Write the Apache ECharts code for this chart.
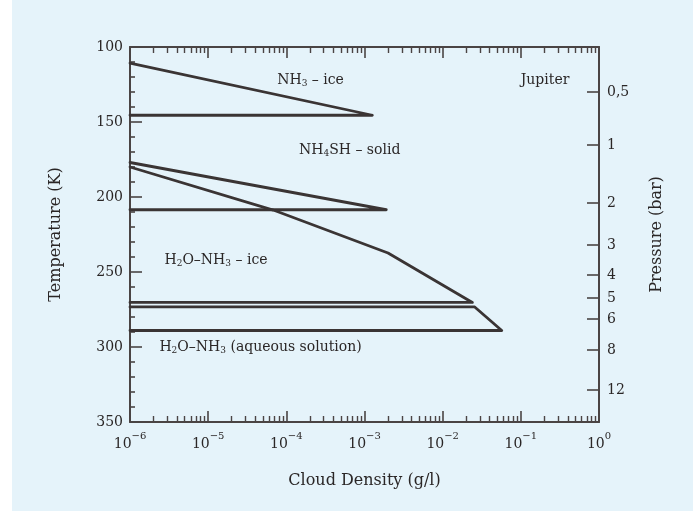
<!DOCTYPE html>
<html><head><meta charset="utf-8">
<script src="https://cdn.jsdelivr.net/npm/echarts@6/dist/echarts.min.js"></script>
<style>
html,body{margin:0;padding:0;background:#fff;}
#bg{position:absolute;left:12px;top:0;width:681px;height:511px;background:#e5f3fa;}
#c{position:absolute;left:0;top:0;width:693px;height:511px;}
</style>
</head><body><div id="bg"></div><div id="c"></div>
<script>
// ---- data ----
const densityTicks = [1e-6, 1e-5, 1e-4, 1e-3, 1e-2, 1e-1, 1];
const tempTicks = [100, 150, 200, 250, 300, 350];
const pressureLabels = ['0,5', '1', '2', '3', '4', '5', '6', '8', '12'];
const pressureTemps = [130, 165.3, 204, 232, 252, 267.3, 281.3, 302, 328.7];

const nh3IceDensity = [1e-6, 1.26e-3, 1e-6];
const nh3IceTemp = [110.7, 145.5, 145.5];
const nh4shDensity = [1e-6, 1.9e-3, 1e-6];
const nh4shTemp = [177, 208.5, 208.5];
const h2oIceDensity = [1e-6, 6.8e-5, 2.0e-3, 2.4e-2, 1e-6];
const h2oIceTemp = [180, 208.7, 237.3, 270.3, 270.3];
const aqueousDensity = [1e-6, 2.57e-2, 5.7e-2, 1e-6];
const aqueousTemp = [273.3, 273.3, 289, 289];

const labelTexts = ['{n|NH}{s|3}{n| – ice}', '{n|Jupiter}', '{n|NH}{s|4}{n|SH – solid}', '{n|H}{s|2}{n|O–NH}{s|3}{n| – ice}', '{n|H}{s|2}{n|O–NH}{s|3}{n| (aqueous solution)}'];
const labelDensity = [2.04e-4, 0.204, 6.46e-4, 1.26e-5, 4.68e-5];
const labelTemp = [122, 122, 168.7, 242, 300];

// ---- styling ----
const FONT = 'DejaVu Serif';
const TXT = '#2a2626';
const AX = '#4a4444';
const LN = '#3a3434';

const minorLogVals = [];
for (let k = -6; k < 0; k++) for (let m = 2; m <= 9; m++) minorLogVals.push(k + Math.log10(m));

function zip(a, b) { return a.map((v, i) => [v, b[i]]); }
function lineSeries(name, xs, ys) {
  return { name, type: 'line', xAxisIndex: 0, yAxisIndex: 0, data: zip(xs, ys),
    showSymbol: false, symbol: 'none', silent: true, animation: false,
    lineStyle: { color: LN, width: 2.8, join: 'round', cap: 'round' } };
}

const option = {
  animation: false,
  backgroundColor: 'transparent',
  grid: { left: 130, right: 94, top: 47, bottom: 89, containLabel: false },
  xAxis: [
    { type: 'log', logBase: 10, min: densityTicks[0], max: densityTicks[densityTicks.length - 1], position: 'bottom',
      axisLine: { show: true, onZero: false, lineStyle: { color: AX, width: 2 } },
      axisTick: { show: true, inside: true, length: 11, lineStyle: { color: AX, width: 1.6 } },
      splitLine: { show: false },
      axisLabel: { margin: 9, color: TXT, fontFamily: FONT,
        formatter: v => { const e = Math.round(Math.log10(v)); return '{b|10}{s|' + (e < 0 ? '−' + (-e) : e) + '}'; },
        rich: { b: { fontFamily: FONT, fontSize: 14, color: TXT, verticalAlign: 'bottom', lineHeight: 20 },
                s: { fontFamily: FONT, fontSize: 10, color: TXT, verticalAlign: 'top', lineHeight: 20 } } },
      name: 'Cloud Density (g/l)', nameLocation: 'middle', nameGap: 51,
      nameTextStyle: { fontFamily: FONT, fontSize: 16, color: TXT } },
    { type: 'log', logBase: 10, min: densityTicks[0], max: densityTicks[densityTicks.length - 1], position: 'top',
      axisLine: { show: true, onZero: false, lineStyle: { color: AX, width: 2 } },
      axisTick: { show: true, inside: true, length: 11, lineStyle: { color: AX, width: 1.6 } },
      axisLabel: { show: false }, splitLine: { show: false } },
    { type: 'value', min: -6, max: 0, position: 'bottom', axisLine: { show: false, onZero: false }, splitLine: { show: false },
      axisLabel: { show: false },
      axisTick: { show: true, inside: true, length: 6, customValues: minorLogVals, lineStyle: { color: AX, width: 1.4 } } },
    { type: 'value', min: -6, max: 0, position: 'top', axisLine: { show: false, onZero: false }, splitLine: { show: false },
      axisLabel: { show: false },
      axisTick: { show: true, inside: true, length: 6, customValues: minorLogVals, lineStyle: { color: AX, width: 1.4 } } }
  ],
  yAxis: [
    { type: 'value', inverse: true, min: tempTicks[0], max: tempTicks[tempTicks.length - 1], interval: 50, position: 'left',
      axisLine: { show: true, onZero: false, lineStyle: { color: AX, width: 2 } },
      axisTick: { show: true, inside: true, length: 12, lineStyle: { color: AX, width: 1.6 } },
      minorTick: { show: true, splitNumber: 5, length: 5, lineStyle: { color: AX, width: 1.6 } },
      splitLine: { show: false }, minorSplitLine: { show: false },
      axisLabel: { margin: 7, color: TXT, fontFamily: FONT, fontSize: 14 },
      name: 'Temperature (K)', nameLocation: 'middle', nameGap: 66, nameRotate: 90,
      nameTextStyle: { fontFamily: FONT, fontSize: 16, color: TXT } },
    { type: 'value', inverse: true, min: tempTicks[0], max: tempTicks[tempTicks.length - 1], position: 'right',
      axisLine: { show: true, onZero: false, lineStyle: { color: AX, width: 2 } }, splitLine: { show: false },
      axisTick: { show: true, inside: true, length: 12, customValues: pressureTemps, lineStyle: { color: AX, width: 1.6 } },
      axisLabel: { margin: 8, color: TXT, fontFamily: FONT, fontSize: 14, customValues: pressureTemps,
        formatter: v => { let bi = 0; pressureTemps.forEach((t, i) => { if (Math.abs(t - v) < Math.abs(pressureTemps[bi] - v)) bi = i; }); return pressureLabels[bi]; } },
      name: 'Pressure (bar)', nameLocation: 'middle', nameGap: 50, nameRotate: 90,
      nameTextStyle: { fontFamily: FONT, fontSize: 16, color: TXT } }
  ],
  series: [
    lineSeries('NH3 ice', nh3IceDensity, nh3IceTemp),
    lineSeries('NH4SH solid', nh4shDensity, nh4shTemp),
    lineSeries('H2O-NH3 ice', h2oIceDensity, h2oIceTemp),
    lineSeries('aqueous', aqueousDensity, aqueousTemp),
    { type: 'scatter', xAxisIndex: 0, yAxisIndex: 0, symbolSize: 0, silent: true, animation: false,
      itemStyle: { opacity: 1 },
      data: labelTexts.map((t, i) => ({ value: [labelDensity[i], labelTemp[i]], name: t })),
      label: { show: true, position: 'inside', formatter: p => p.name, color: TXT, opacity: 1,
        rich: { n: { fontFamily: FONT, fontSize: 14, color: TXT, lineHeight: 16, verticalAlign: 'middle' },
                s: { fontFamily: FONT, fontSize: 9, color: TXT, lineHeight: 10, padding: [10, 0, 0, 0], verticalAlign: 'bottom' } } } }
  ]
};
const chart = echarts.init(document.getElementById('c'), null, { renderer: 'canvas' });
chart.setOption(option);
</script>
</body></html>
